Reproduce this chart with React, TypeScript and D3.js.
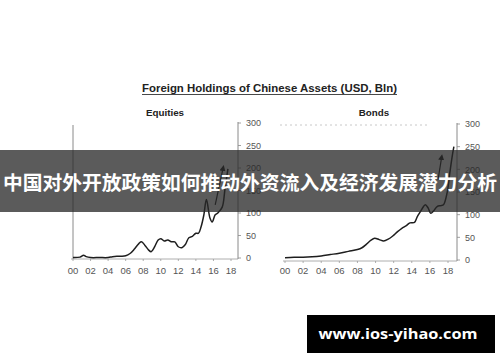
import React from "react";
import * as d3 from "d3";

// Foreign holdings of Chinese assets, USD bn
const equityYears = [2000, 2000.8, 2001.2, 2001.5, 2002, 2003, 2004, 2004.5, 2005, 2005.5, 2006, 2006.5, 2007, 2007.5, 2007.8, 2008.2, 2008.6, 2008.9, 2009.3, 2009.7, 2010, 2010.4, 2010.8, 2011.2, 2011.6, 2012, 2012.4, 2012.8, 2013.2, 2013.6, 2014, 2014.3, 2014.6, 2014.9, 2015.2, 2015.6, 2015.85, 2016.2, 2016.5, 2017, 2017.3, 2017.5, 2017.65];
const equityValues = [1, 2, 6, 3, 1, 1, 1, 3, 4, 4, 5, 10, 20, 32, 36, 28, 18, 14, 25, 40, 43, 38, 40, 36, 36, 25, 23, 30, 45, 48, 55, 55, 70, 95, 130, 89, 80, 96, 100, 113, 151, 178, 198];

const bondYears = [2000, 2001, 2002, 2003, 2004, 2005, 2006, 2007, 2008, 2008.5, 2009, 2009.5, 2009.9, 2010.4, 2010.9, 2011.4, 2011.9, 2012.4, 2012.9, 2013.4, 2013.8, 2014.3, 2014.6, 2014.9, 2015.3, 2015.5, 2015.8, 2016.1, 2016.4, 2016.8, 2017.2, 2017.5, 2017.9, 2018.2, 2018.45, 2018.65];
const bondValues = [5, 6, 6, 7, 9, 12, 15, 19, 23, 27, 35, 44, 48, 45, 42, 46, 53, 62, 70, 76, 82, 83, 95, 105, 118, 122, 115, 103, 108, 118, 120, 122, 148, 192, 227, 250];

// Trend arrows: [fromYear, fromValue, toYear, toValue]
const equityArrow = [2016.2, 118, 2017.1, 200];
const bondArrow = [2016.9, 177, 2017.3, 227];

const yearTicks = [2000, 2002, 2004, 2006, 2008, 2010, 2012, 2014, 2016, 2018];
const valueTicks = [0, 50, 100, 150, 200, 250, 300];

const titleText = "Foreign Holdings of Chinese Assets (USD, Bln)";
const bannerText = "中国对外开放政策如何推动外资流入及经济发展潜力分析";
const siteText = "www.ios-yihao.com";

const tickFont = "'Liberation Sans', Arial, sans-serif";

type PanelProps = {
  name: string;
  nameX: number;
  years: number[];
  values: number[];
  arrow: number[];
  xRange: [number, number];
  yRange: [number, number];
  axisRight: number;
  axisLeft?: number;
  dotted?: boolean;
};

function Panel({ name, nameX, years, values, arrow, xRange, yRange, axisRight, axisLeft, dotted }: PanelProps) {
  const x = d3.scaleLinear().domain([2000, 2018]).range(xRange);
  const y = d3.scaleLinear().domain([0, 300]).range(yRange);
  const pts: [number, number][] = years.map((yr, i) => [x(yr), y(values[i])]);
  const line = d3.line<[number, number]>().curve(d3.curveCatmullRom.alpha(0.5))(pts) || "";
  const base = y(0) + 1;
  return (
    <g>
      <text x={nameX} y={116} textAnchor="middle" fontFamily={tickFont} fontWeight="bold" fontSize={9.8} fill="#222">
        {name}
      </text>
      {dotted && (
        <line x1={x(2000) - 5} x2={x(2016)} y1={y(300) + 1} y2={y(300) + 1} stroke="#c8c8c8" strokeWidth={1} strokeDasharray="2,3" />
      )}
      {axisLeft !== undefined && (
        <line x1={axisLeft} x2={axisLeft} y1={y(300) + 2} y2={base} stroke="#8a8a8a" strokeWidth={1} />
      )}
      <line x1={xRange[0] - 2} x2={axisRight} y1={base} y2={base} stroke="#9a9a9a" strokeWidth={0.8} />
      <line x1={axisRight} x2={axisRight} y1={y(300) - 1} y2={base} stroke="#8a8a8a" strokeWidth={1} />
      {valueTicks.map((v) => (
        <g key={v}>
          <line x1={axisRight} x2={axisRight + 3} y1={y(v)} y2={y(v)} stroke="#8a8a8a" strokeWidth={0.8} />
          <text x={axisRight + 8} y={y(v) + 3.3} fontFamily={tickFont} fontSize={9} fill="#555">
            {v}
          </text>
        </g>
      ))}
      {yearTicks.map((t) => (
        <g key={t}>
          <line x1={x(t)} x2={x(t)} y1={base} y2={base + 2} stroke="#9a9a9a" strokeWidth={0.8} />
          <text x={x(t)} y={274} textAnchor="middle" fontFamily={tickFont} fontSize={9.5} fill="#555">
            {String(t % 100).padStart(2, "0")}
          </text>
        </g>
      ))}
      <path d={line} fill="none" stroke="#1e1e1e" strokeWidth={1.5} strokeLinejoin="round" />
      <line
        x1={x(arrow[0])}
        y1={y(arrow[1])}
        x2={x(arrow[2])}
        y2={y(arrow[3])}
        stroke="#1e1e1e"
        strokeWidth={1.2}
        markerEnd="url(#head)"
      />
    </g>
  );
}

export default function App() {
  return (
    <svg width={500} height={362} style={{ position: "absolute", left: 0, top: 0, background: "#fff" }}>
      <defs>
        <marker id="head" viewBox="0 0 10 10" refX={5} refY={5} markerWidth={5} markerHeight={5} orient="auto">
          <path d="M0,0 L10,5 L0,10 z" fill="#1e1e1e" />
        </marker>
      </defs>
      <rect width={500} height={362} fill="#fff" />
      <text
        x={269.5}
        y={92}
        textAnchor="middle"
        fontFamily={tickFont}
        fontWeight="bold"
        fontSize={11}
        textLength={255}
        lengthAdjust="spacingAndGlyphs"
        fill="#222"
      >
        {titleText}
      </text>
      <line x1={142} x2={397} y1={94.5} y2={94.5} stroke="#333" strokeWidth={0.9} />
      <Panel
        name="Equities"
        nameX={165}
        years={equityYears}
        values={equityValues}
        arrow={equityArrow}
        xRange={[73, 231]}
        yRange={[258, 123]}
        axisRight={238}
        axisLeft={73}
      />
      <Panel
        name="Bonds"
        nameX={374}
        years={bondYears}
        values={bondValues}
        arrow={bondArrow}
        xRange={[285, 448]}
        yRange={[260, 124]}
        axisRight={457}
        dotted
      />
      <rect x={0} y={150} width={500} height={62} fill="rgba(40,40,40,0.76)" />
      <text
        x={250}
        y={190}
        textAnchor="middle"
        fontFamily="'Noto Sans CJK SC', sans-serif"
        fontWeight="bold"
        fontSize={19.5}
        textLength={494}
        lengthAdjust="spacingAndGlyphs"
        fill="#fff"
      >
        {bannerText}
      </text>
      <rect x={307} y={315} width={188} height={38} fill="#000" />
      <text
        x={398}
        y={339}
        textAnchor="middle"
        fontFamily="'Open Sans', 'DejaVu Sans', sans-serif"
        fontWeight="bold"
        fontSize={14}
        textLength={159}
        lengthAdjust="spacingAndGlyphs"
        fill="#fff"
      >
        {siteText}
      </text>
    </svg>
  );
}
